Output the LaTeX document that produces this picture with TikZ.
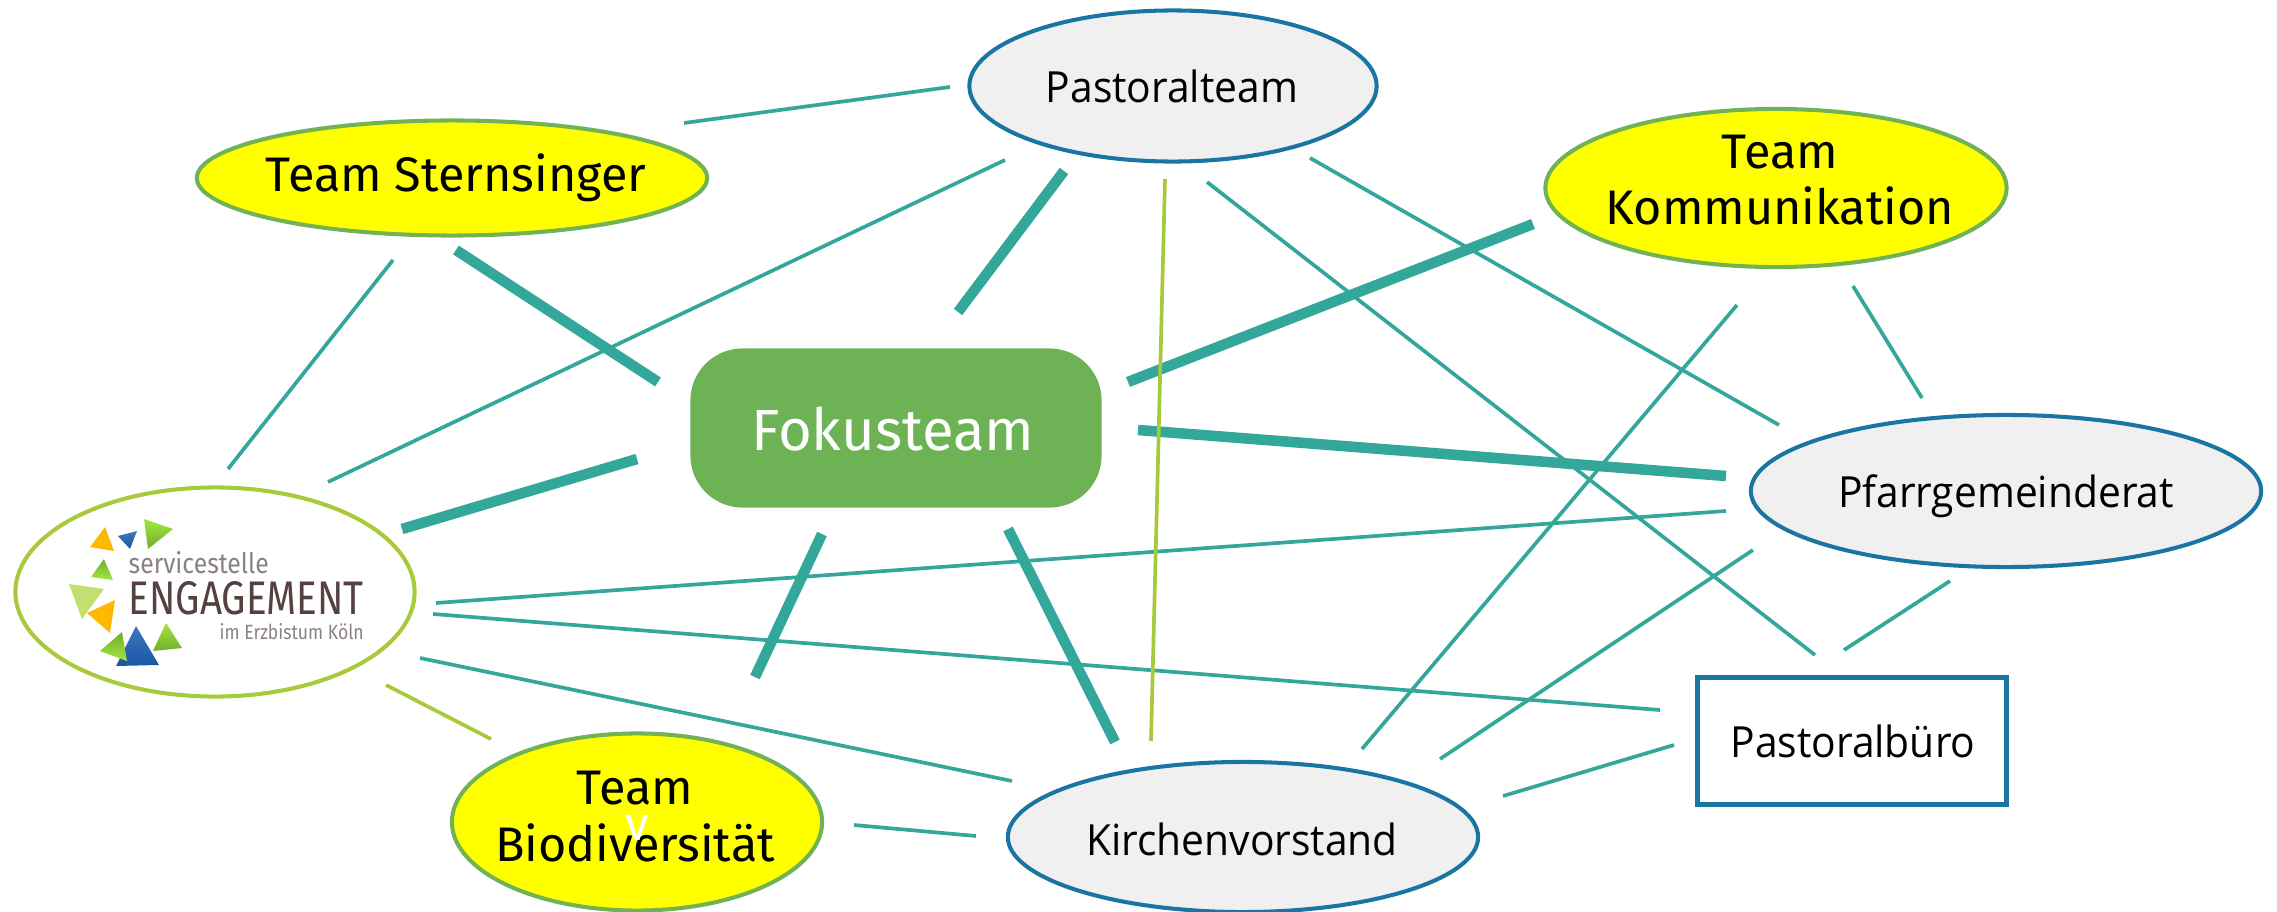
\documentclass[tikz,border=0pt]{standalone}
\usepackage{fontspec}
\usetikzlibrary{shapes.geometric}
\setmainfont[FakeStretch=0.95]{Open Sans}
\newfontfamily\teamfont{Fira Sans}
\definecolor{linkteal}{HTML}{34A79B}
\definecolor{linkolive}{HTML}{A6CA39}
\definecolor{ringblue}{HTML}{1B75A3}
\definecolor{ringgreen}{HTML}{70B255}
\definecolor{fokusgreen}{HTML}{6DB356}
\definecolor{teamyellow}{HTML}{FFFF00}
\definecolor{logobrown}{HTML}{55413F}
\definecolor{logogrey}{HTML}{8A8280}
\definecolor{logoorange}{HTML}{FFB800}
\definecolor{logolime}{HTML}{A2E640}
\definecolor{logoleaf}{HTML}{71AE2C}
\definecolor{logopale}{HTML}{C2E06F}
\definecolor{logosky}{HTML}{3F78BB}
\definecolor{logonavy}{HTML}{1A56A5}
\tikzset{
	personring/.style={ellipse, draw=ringblue, line width=1.15pt, fill=black!6, inner sep=0},
	teamring/.style={ellipse, draw=ringgreen, line width=1.15pt, fill=teamyellow, inner sep=0},
	persontext/.style={inner sep=0, anchor=base, font=\fontsize{12.2}{15}\selectfont},
	teamtext/.style={inner sep=0, anchor=base, align=center, font=\teamfont\fontsize{13.8}{16.2}\selectfont},
	thinlink/.style={linkteal, line width=1.05pt},
	thicklink/.style={linkteal, line width=3pt},
	olivelink/.style={linkolive, line width=1.05pt},
	logotext/.style={inner sep=0, anchor=base west, font=\teamfont}
}
\begin{document}
\begin{tikzpicture}[x=0.01cm, y=-0.01cm]
	\useasboundingbox (0,0) rectangle (2277,912);

	% people
	\node[personring, minimum width=4.07cm, minimum height=1.51cm] (pastoral) at (1173,86) {};
	\node[personring, minimum width=5.10cm, minimum height=1.52cm] (pfarr) at (2006,491) {};
	\node[personring, minimum width=4.70cm, minimum height=1.50cm] (kirche) at (1243,837) {};
	\node[draw=ringblue, line width=1.4pt, inner sep=0, minimum width=3.08cm, minimum height=1.27cm] (buero) at (1852,741) {};
	\node[persontext] (pastoraltext) at (1172,102) {Pastoralteam};
	\node[persontext] (pfarrtext) at (2006,507) {Pfarrgemeinderat};
	\node[persontext] (kirchetext) at (1242,855) {Kirchenvorstand};
	\node[persontext] (buerotext) at (1853,757) {Pastoralbüro};

	% teams
	\node[teamring, minimum width=5.10cm, minimum height=1.15cm] (sternsinger) at (452,178) {};
	\node[teamring, minimum width=4.61cm, minimum height=1.58cm] (kommunikation) at (1776,188) {};
	\node[teamring, minimum width=3.70cm, minimum height=1.77cm] (biodiv) at (637,822) {};
	\node[teamtext] (sternsingertext) at (456,192) {Team Sternsinger};
	\node[teamtext] (kommunikationtext) at (1780,225) {Team\\Kommunikation};
	\node[teamtext] (biodivtext) at (635,861) {Team\\Biodiversität};
	\node[text=white, inner sep=0, font=\teamfont\fontsize{13.6}{16}\selectfont] (stray) at (637,828) {v};

	% centre
	\node[rounded corners=0.52cm, fill=fokusgreen, inner sep=0, minimum width=4.11cm, minimum height=1.59cm] (fokus) at (896,428) {};
	\node[text=white, inner sep=0, anchor=base, font=\teamfont\fontsize{16.5}{20}\selectfont] (fokustext) at (893,450) {Fokusteam};

	% logo
	\node[ellipse, draw=linkolive, line width=1.15pt, fill=white, inner sep=0, minimum width=3.99cm, minimum height=2.09cm] (logo) at (215,592) {};
	\fill[logoorange] (105,527) -- (90,547) -- (114,551) -- cycle;
	\shade[top color=logosky, bottom color=logonavy] (118,536) -- (137,531) -- (130,549) -- cycle;
	\shade[top color=logolime, bottom color=logoleaf] (144,519) -- (173,529) -- (148,549) -- cycle;
	\shade[top color=logoleaf, bottom color=logolime] (104,559) -- (91,577) -- (113,580) -- cycle;
	\fill[logopale] (69,584) -- (104,589) -- (82,619) -- cycle;
	\fill[logoorange] (115,600) -- (87,613) -- (110,633) -- cycle;
	\shade[top color=logosky, bottom color=logonavy] (136,626) -- (116,666) -- (159,665) -- cycle;
	\shade[top color=logoleaf, bottom color=logolime] (122,632) -- (100,651) -- (127,661) -- cycle;
	\shade[top color=logolime, bottom color=logoleaf] (166,623) -- (153,651) -- (182,648) -- cycle;
	\node[logotext, text=logogrey] (logoa) at (128,573) {\resizebox{1.40cm}{.22cm}{servicestelle}};
	\node[logotext, text=logobrown] (logob) at (128,614) {\resizebox{2.35cm}{.33cm}{ENGAGEMENT}};
	\node[logotext, text=logogrey] (logoc) at (219,639) {\resizebox{1.44cm}{.16cm}{im Erzbistum Köln}};

	% link ends
	\foreach \name/\x/\y in {
		pa/950/87, pb/684/123, pc/1005/160, pd/328/482, pe/1064/171, pf/958/312,
		pg/1165/179, ph/1151/741, pi/1207/182, pj/1815/655, pk/1310/158, pl/1779/425,
		sa/393/260, sb/228/469, sc/456/250, sd/658/382,
		ka/1533/224, kb/1128/382, kc/1737/305, kd/1362/749, ke/1853/286, kf/1922/398,
		fa/1138/430, fb/1726/476, fc/637/459, fd/402/529, fe/822/534, ff/755/677, fg/1008/529, fh/1115/742,
		ra/1726/511, rb/436/603, rc/1753/550, rd/1440/759, re/1950/581, rf/1844/650,
		la/433/614, lb/1660/710, lc/420/658, ld/1012/781, le/386/685, lf/491/739,
		ba/854/825, bb/976/836, ca/1503/796, cb/1674/745}
		\coordinate (\name) at (\x,\y);

	% thin links
	\foreach \a/\b in {pa/pb, pc/pd, pi/pj, pk/pl, sa/sb, kc/kd, ke/kf, ra/rb, rc/rd, re/rf, la/lb, lc/ld, ba/bb, ca/cb}
		\draw[thinlink] (\a) -- (\b);

	% thick links
	\foreach \a/\b in {pe/pf, sc/sd, ka/kb, fa/fb, fc/fd, fe/ff, fg/fh}
		\draw[thicklink] (\a) -- (\b);

	% olive links
	\draw[olivelink] (pg) -- (ph);
	\draw[olivelink] (le) -- (lf);
\end{tikzpicture}
\end{document}
